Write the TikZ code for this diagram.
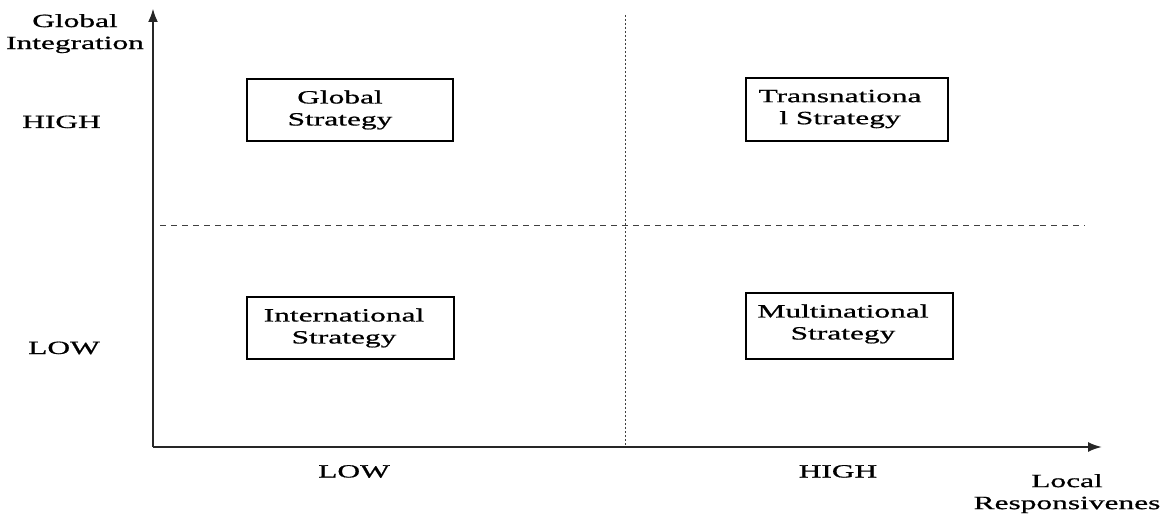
\documentclass[tikz,border=0pt]{standalone}
\usepackage{fontspec}
\setmainfont{Liberation Serif}[FakeStretch=1.68,FakeBold=0.8]
\usetikzlibrary{arrows.meta}
\begin{document}
\begin{tikzpicture}[x=1pt,y=-1pt,
  lbl/.style={font=\fontsize{18.7}{22}\selectfont, inner sep=0pt, align=center},
  quad/.style={draw=black, line width=1.2pt, inner sep=0pt},
  axis/.style={draw=black!85, -{Latex[length=14pt,width=10pt]}},
  divider/.style={draw=black!75, line width=0.9pt}]
\useasboundingbox (0,0) rectangle (1171,519);
% axes
\coordinate (O) at (153,447);
\coordinate (Ytop) at (153,8);
\coordinate (Xend) at (1102,447);
\draw[axis, line width=2.8pt] (O) -- (Ytop);
\draw[axis, line width=2pt] (O) -- (Xend);
% dividers
\coordinate (hl) at (160,225);
\coordinate (hr) at (1085,225);
\coordinate (vt) at (625,15);
\coordinate (vb) at (625,446);
\draw[divider, dash pattern=on 6pt off 5pt] (hl) -- (hr);
\draw[divider, dash pattern=on 2pt off 2pt] (vt) -- (vb);
% boxes
\node[quad, minimum width=206pt, minimum height=62pt] (gbox) at (350,110) {};
\node[quad, minimum width=202pt, minimum height=63pt] (tbox) at (847,109.5) {};
\node[quad, minimum width=207pt, minimum height=62pt] (ibox) at (350.5,328) {};
\node[quad, minimum width=207pt, minimum height=66pt] (mbox) at (849.5,326) {};
\node[lbl] (gtxt) at (340,110) {Global\\Strategy};
\node[lbl] (ttxt) at (840,109) {Transnationa\\l Strategy};
\node[lbl] (itxt) at (344,328) {International\\Strategy};
\node[lbl] (mtxt) at (843,324) {Multinational\\Strategy};
% axis labels
\node[lbl] (ylab) at (75,33.6) {Global\\Integration};
\node[lbl, anchor=base] (yhigh) at (61.5,128) {HIGH};
\node[lbl, anchor=base] (ylow) at (64,354) {LOW};
\node[lbl, anchor=base] (xlow) at (354,477.5) {LOW};
\node[lbl, anchor=base] (xhigh) at (838,477.5) {HIGH};
\node[lbl] (xlab) at (1067,493.6) {Local\\Responsivenes};
\end{tikzpicture}
\end{document}
